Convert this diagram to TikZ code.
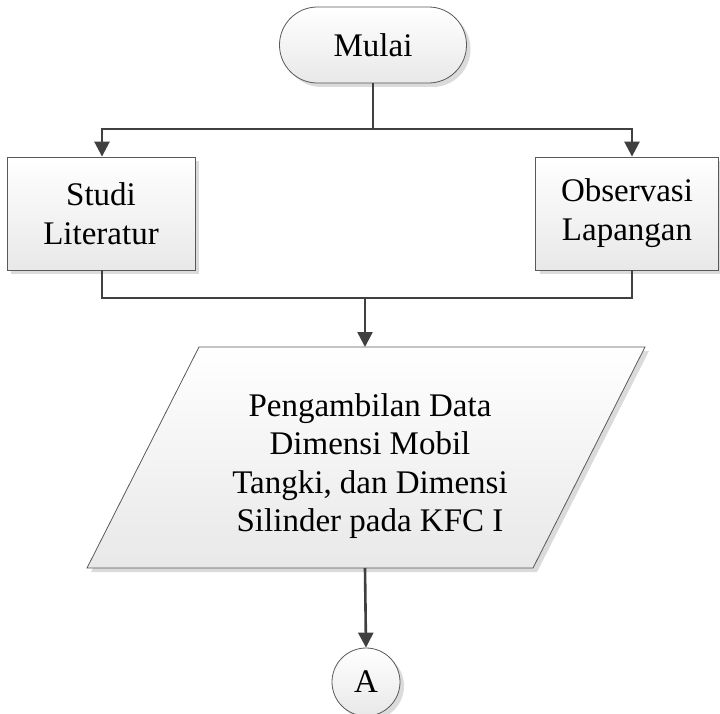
\documentclass[tikz,border=0pt]{standalone}
\usepackage{fontspec}
\setmainfont{Liberation Serif}
\usetikzlibrary{arrows.meta,shadows,calc}
\begin{document}
\begin{tikzpicture}[x=1pt,y=-1pt,
  box/.style={draw=black!65, line width=0.8pt, top color=white, bottom color=black!9,
    drop shadow={shadow xshift=4pt,shadow yshift=-4pt,fill=black!14,opacity=1},
    align=center, font=\fontsize{33}{39}\selectfont},
  term/.style={box, rounded corners=37.9pt, minimum width=187pt, minimum height=76pt},
  proc/.style={box, minimum height=113pt, inner sep=0pt},
  conn/.style={box, circle, minimum size=68pt, inner sep=0pt},
  flow/.style={draw=black!75, line width=2.6pt},
  arr/.style={flow, -{Triangle[width=15pt,length=15pt]}},
  txt/.style={align=center, font=\fontsize{33}{38.5}\selectfont}
]
\useasboundingbox (0,0) rectangle (720,714);
% nodes
\node[term] (start) at (373,45) {Mulai};
\node[proc, minimum width=188pt] (studi) at (101,213.5) {Studi\\Literatur};
\node[proc, minimum width=183pt] (obs) at (627,213.5) {Observasi\\Lapangan};
% parallelogram
\fill[black!14] (91,572) -- (203,351) -- (649,351) -- (537,572) -- cycle;
\path[draw=black!65, line width=0.8pt, top color=white, bottom color=black!9]
  (87,568) -- (199,347) -- (645,347) -- (533,568) -- cycle;
\node[txt] (data) at (370,466) {Pengambilan Data\\Dimensi Mobil\\Tangki, dan Dimensi\\Silinder pada KFC I};
\coordinate (dataTop) at (365,347);
\coordinate (dataBot) at (365,568);
\node[conn] (A) at (366,682) {A};
% connectors
\coordinate (jl) at (102,129);
\coordinate (jr) at (632,129);
\coordinate (mid) at (365,298);
\draw[flow] (start.south) -- (start.south |- jl);
\draw[arr] (start.south |- jl) -- (jl) -- (jl |- studi.north);
\draw[arr] (start.south |- jr) -- (jr) -- (jr |- obs.north);
\draw[flow] (jl |- studi.south) -- (jl |- mid) -- (mid);
\draw[flow] (jr |- obs.south) -- (jr |- mid) -- (mid);
\draw[arr] (mid) -- (dataTop);
\draw[arr] (dataBot) -- (A.north);
\end{tikzpicture}
\end{document}
